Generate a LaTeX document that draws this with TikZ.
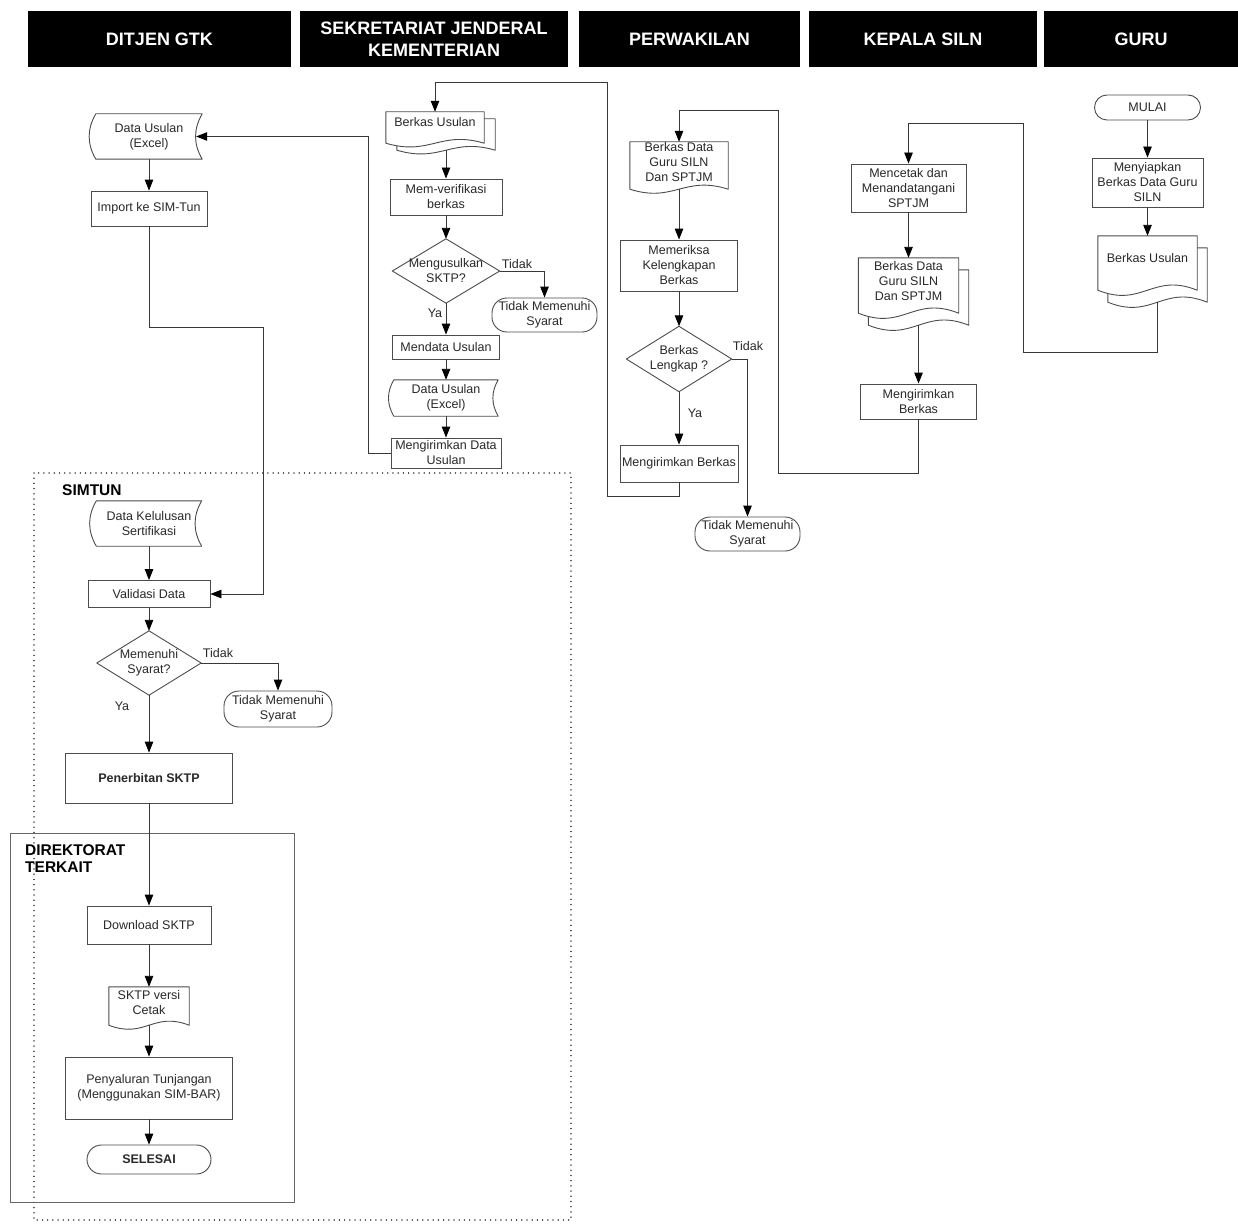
\documentclass[tikz,border=0pt]{standalone}
\usepackage{fontspec}
\setmainfont{Liberation Sans}
\usetikzlibrary{arrows.meta,calc}
\pgfdeclarelayer{bgg}
\pgfdeclarelayer{bg}
\pgfsetlayers{bgg,bg,main}
\definecolor{lc}{gray}{0.22}
\definecolor{sc}{gray}{0.30}
\definecolor{tc}{gray}{0.16}
\newcommand\bodyfont{\fontsize{12.5}{15}\selectfont}
\newcommand\hdrfont{\fontsize{18}{22}\selectfont\bfseries}
\newcommand\grpfont{\fontsize{15.5}{17}\selectfont\bfseries}
\newcommand\storedshape[1]{%
  \draw[shp] (#1.north west) -- (#1.north east) to[bend right=30] (#1.south east)
    -- (#1.south west) to[bend left=30] (#1.north west) -- cycle;}
\newcommand\docshape[2]{%
  \draw[shp] (#1.south west) -- (#1.north west) -- (#1.north east) -- (#1.south east)
    .. controls ($(#1.south west)!0.55!(#1.south east)+(0,-#2)$) and ($(#1.south west)!0.45!(#1.south east)+(0,#2)$) .. (#1.south west) -- cycle;}
\newcommand\diamondshape[1]{%
  \draw[shp] (#1.north) -- (#1.east) -- (#1.south) -- (#1.west) -- cycle;}
\begin{document}
\begin{tikzpicture}[x=1pt,y=-1pt,
  base/.style={align=center, text=tc, font=\bodyfont, inner sep=0pt},
  proc/.style={base, rectangle, draw=sc, line width=0.9pt},
  term/.style={proc, rounded corners=#1},
  term/.default=15pt,
  sz/.style 2 args={minimum width=#1pt, minimum height=#2pt},
  tx/.style={base, rectangle},
  shp/.style={draw=sc, line width=0.9pt, fill=white, line join=round},
  conn/.style={draw=lc, line width=0.9pt},
  arr/.style={conn, -{Triangle[length=11pt,width=8.5pt,color=black]}},
  lbl/.style={font=\bodyfont, text=tc, inner sep=0pt},
  hdr/.style={fill=black, text=white, font=\hdrfont, align=center, inner sep=0pt, minimum height=56pt},
  grp/.style={font=\grpfont, text=black, inner sep=0pt, align=left},
  dotbox/.style={draw=black!75, line width=1.5pt, dash pattern=on 0.01pt off 5.2pt, line cap=round},
  grpbox/.style={draw=black!60, line width=1pt}
]
\useasboundingbox (0,0) rectangle (1238,1225);
\begin{pgfonlayer}{bgg}
  \fill[white] (0,0) rectangle (1238,1225);
  \draw[dotbox] (34,473) rectangle (571,1220);
  \draw[grpbox] (10,833) rectangle (294,1202);
\end{pgfonlayer}

% headers
\node[hdr, minimum width=263pt] (h1) at (159.5,39) {DITJEN GTK};
\node[hdr, minimum width=268pt] (h2) at (434,39) {SEKRETARIAT JENDERAL\\KEMENTERIAN};
\node[hdr, minimum width=221pt] (h3) at (689.5,39) {PERWAKILAN};
\node[hdr, minimum width=228pt] (h4) at (923,39) {KEPALA SILN};
\node[hdr, minimum width=194pt] (h5) at (1141,39) {GURU};

% GURU
\node[term=12.5pt, sz={106}{25}] (mulai) at (1147.5,107.5) {MULAI};
\node[proc, sz={111}{49}] (siap) at (1147.5,182.5) {Menyiapkan\\Berkas Data Guru\\SILN};
\node[tx, sz={99}{54}, text depth=10pt] (bu2) at (1147.5,263) {Berkas Usulan};
\node[tx, sz={99}{54}] (bu2b) at (1157.5,275) {};

% KEPALA SILN
\node[proc, sz={115}{48}] (cetak) at (908.5,188) {Mencetak dan\\Menandatangani\\SPTJM};
\node[tx, sz={100}{55}, text depth=10pt] (bdg2) at (908.5,285.5) {Berkas Data\\Guru SILN\\Dan SPTJM};
\node[tx, sz={100}{55}] (bdg2b) at (918.5,297.5) {};
\node[proc, sz={116}{35}] (kirim4) at (918.5,401.5) {Mengirimkan\\Berkas};

% PERWAKILAN
\node[tx, sz={98}{47}, text depth=7pt] (bdg) at (679,165.5) {Berkas Data\\Guru SILN\\Dan SPTJM};
\node[proc, sz={117}{51}] (periksa) at (679,265.5) {Memeriksa\\Kelengkapan\\Berkas};
\node[tx, sz={105}{65}] (d3) at (679,359) {Berkas\\Lengkap ?};
\node[proc, sz={118}{37}] (kirim3) at (679,463.5) {Mengirimkan Berkas};
\node[term, sz={105}{34}] (t3) at (747.5,534) {Tidak Memenuhi\\Syarat};

% SEKRETARIAT
\node[tx, sz={98}{31}, text depth=11pt] (bu) at (435,127.5) {Berkas Usulan};
\node[tx, sz={98}{31}] (bub) at (446,134.5) {};
\node[proc, sz={112}{36}] (verif) at (446,197) {Mem-verifikasi\\berkas};
\node[tx, sz={107}{64}] (d2) at (446,271) {Mengusulkan\\SKTP?};
\node[term, sz={105}{34}] (t2) at (544.5,315) {Tidak Memenuhi\\Syarat};
\node[proc, sz={107}{24}] (mendata) at (446,347) {Mendata Usulan};
\node[tx, sz={104}{36}] (du2) at (446,398) {Data Usulan\\(Excel)};
\node[proc, sz={110}{30}] (kirim2) at (446,453) {Mengirimkan Data\\Usulan};

% DITJEN GTK
\node[tx, sz={106}{45}] (du1) at (149,136.5) {Data Usulan\\(Excel)};
\node[proc, sz={116}{35}] (imp) at (149,208.5) {Import ke SIM-Tun};
\node[tx, sz={105}{45}] (dks) at (149,523.5) {Data Kelulusan\\Sertifikasi};
\node[proc, sz={122}{27}] (val) at (149,594) {Validasi Data};
\node[tx, sz={104}{64}] (d1) at (149,663) {Memenuhi\\Syarat?};
\node[term, sz={108}{36}] (t1) at (278,709) {Tidak Memenuhi\\Syarat};
\node[proc, sz={167}{50}, font=\bodyfont\bfseries] (terbit) at (149,778) {Penerbitan SKTP};
\node[proc, sz={124}{38}] (dl) at (149,925) {Download SKTP};
\node[tx, sz={80}{38}, text depth=7pt] (sk) at (149,1006) {SKTP versi\\Cetak};
\node[proc, sz={167}{62}] (salur) at (149,1088) {Penyaluran Tunjangan\\(Menggunakan SIM-BAR)};
\node[term=14.5pt, sz={124}{29}, font=\bodyfont\bfseries] (selesai) at (149,1159.5) {SELESAI};

% group labels
\node[grp, anchor=west] (simtun) at (62,490) {SIMTUN};
\node[grp, anchor=north west] (dir) at (25,844) {DIREKTORAT\\TERKAIT};

% decision labels
\node[lbl] (lt1) at (218,653) {Tidak};
\node[lbl] (ly1) at (122,706) {Ya};
\node[lbl] (lt2) at (517,264) {Tidak};
\node[lbl] (ly2) at (435,313) {Ya};
\node[lbl] (lt3) at (748,346) {Tidak};
\node[lbl] (ly3) at (695,413) {Ya};

% shapes
\begin{pgfonlayer}{bg}
  \docshape{bu2b}{18}\docshape{bu2}{18}
  \docshape{bdg2b}{18}\docshape{bdg2}{18}
  \docshape{bdg}{14}
  \diamondshape{d3}
  \docshape{bub}{13}\docshape{bu}{13}
  \diamondshape{d2}
  \storedshape{du2}
  \storedshape{du1}
  \storedshape{dks}
  \diamondshape{d1}
  \docshape{sk}{14}
\end{pgfonlayer}

% connectors: GURU / KEPALA SILN
\draw[arr] (mulai.south) -- (mulai.south |- siap.north);
\draw[arr] (siap.south) -- (siap.south |- bu2.north);
\draw[arr] (bu2b.south) -- ++(0,50) -| (1023,123) -| (cetak.north);
\draw[arr] (cetak.south) -- (cetak.south |- bdg2.north);
\draw[arr] (bdg2b.south) -- (bdg2b.south |- kirim4.north);
\draw[arr] (kirim4.south) -- ++(0,54) -| (778,110) -| (bdg.north);

% PERWAKILAN
\draw[arr] (bdg.south) -- (bdg.south |- periksa.north);
\draw[arr] (periksa.south) -- (periksa.south |- d3.north);
\draw[arr] (d3.east) -| (t3.north);
\draw[arr] (d3.south) -- (d3.south |- kirim3.north);
\draw[arr] (kirim3.south) -- ++(0,14) -| (607,82) -| (bu.north);

% SEKRETARIAT
\draw[arr] (bub.south) -- (bub.south |- verif.north);
\draw[arr] (verif.south) -- (verif.south |- d2.north);
\draw[arr] (d2.east) -| (t2.north);
\draw[arr] (d2.south) -- (d2.south |- mendata.north);
\draw[arr] (mendata.south) -- (mendata.south |- du2.north);
\draw[arr] (du2.south) -- (du2.south |- kirim2.north);
\draw[arr] (kirim2.west) -- (368,453) -- (368,136.5) -- ([xshift=-6pt]du1.east);

% DITJEN GTK
\draw[arr] (du1.south) -- (du1.south |- imp.north);
\draw[arr] (imp.south) -- ++(0,101) -| (263,594) -- (val.east);
\draw[arr] (dks.south) -- (dks.south |- val.north);
\draw[arr] (val.south) -- (val.south |- d1.north);
\draw[arr] (d1.east) -| (t1.north);
\draw[arr] (d1.south) -- (d1.south |- terbit.north);
\draw[arr] (terbit.south) -- (terbit.south |- dl.north);
\draw[arr] (dl.south) -- (dl.south |- sk.north);
\draw[arr] (sk.south) -- (sk.south |- salur.north);
\draw[arr] (salur.south) -- (salur.south |- selesai.north);
\end{tikzpicture}
\end{document}
